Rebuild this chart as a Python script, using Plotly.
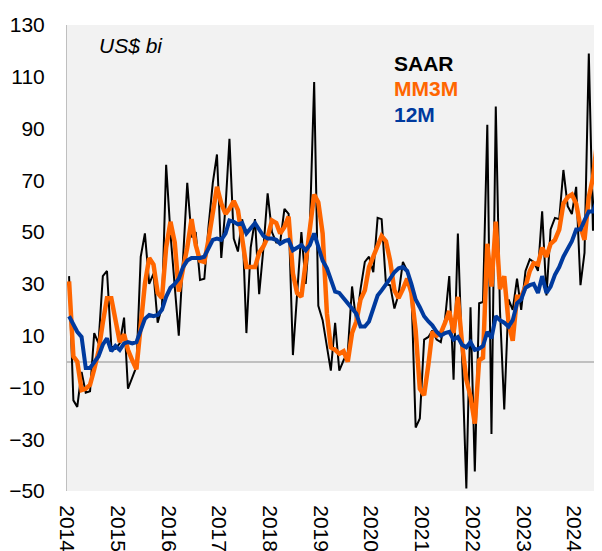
import pandas as pd
import plotly.graph_objects as go

# Monthly observations, Jan 2014 .. Jul 2024 (US$ bi)
start_month = "2014-01-01"

saar = [
    33, -15, -17.5, -4, -12, -11.5, 11, 7, 33, 35, 6, 5,
    7, 17, -10.5, -6, -2, 40.5, 49.5, 30, 34, 15, 21, 76,
    49.5, 29, 10, 40, 69, 48, 50, 31.5, 32, 52, 69, 80,
    40, 60, 86, 47.5, 42.5, 55, 11, 44, 55, 26, 44, 65,
    50, 46, 46, 59, 57, 2.5, 28, 50, 30, 52, 108, 21.5,
    16, 5, -3.5, 15, -3.5, 0.5, 3.5, 29, 15, 28, 38.5, 40.5,
    34.5, 55.5, 55, 30, 29.5, 20.5, 26, 38.5, 35, 28, -25.5, -22,
    8.5, 9.5, 12, 8.5, 7.5, 16.5, 33, -7, 49.5, 2, -49, 21,
    -42.5, 22.5, 23, 91.5, -28, 98.5, 20, -18.5, 24, 20, 32, 20,
    35, 39.5, 38.5, 35, 58, 25.5, 51, 55.5, 55, 74, 60, 57,
    67.5, 29.5, 42, 119, 50.5, 88, 56,
]

mm3m = [
    31, 2, 0, -11, -10.5, -9, -3, 4, 15, 24.5, 24.5, 15,
    7.5, 10.5, 4.5, 0.5, -3, 14, 30, 40, 37.5, 26.5, 24.5, 44,
    54, 46, 27, 36, 44, 55, 45, 39, 38.5, 47, 58.5, 67.5,
    61, 57, 59, 62, 58.5, 47, 36.5, 36.5, 36.5, 42, 44.5, 48,
    54.5, 53.5, 49.5, 52, 56, 34, 26.5, 25, 39, 52, 64.5, 61.5,
    49.5, 18.5, 5.5, 4.5, 3, 4, 0, 11, 15.5, 24, 27.5, 36.5,
    40.5, 44.5, 48.5, 46.5, 39, 27.5, 24.5, 28, 32, 26.5, 12, -10.5,
    -13, -1, 11.5, 10, 11, 15, 19.5, 11, 25, 7, -7, -13.5,
    -24, 0.5, 1.5, 45.5, 29, 54, 28, 33, 15, 8, 25, 25,
    29, 35, 38, 37.5, 44, 40.5, 45.5, 47, 51, 61, 63.5, 64.5,
    61, 52, 47, 63.5, 71, 85.5, 64.5,
]

m12 = [
    17.5, 14, 11.5, 9.5, -2.5, -2.5, 0, 2, 6.5, 9, 4, 6,
    4.5, 7, 7.5, 7, 7.5, 12, 16.5, 18, 17.5, 18, 20, 25,
    28.5, 30, 32, 36.5, 39, 40, 40, 40, 40.5, 44, 47, 47.5,
    47, 49.5, 54.5, 54, 53, 53.5, 49.5, 51.5, 53.5, 51, 48.5, 47.5,
    47.5, 47, 45.5, 46.5, 47, 43, 44, 45, 43, 45, 49.5, 44,
    39, 36, 31.5, 27, 26.5, 24.5, 22.5, 21, 18.5, 13.5, 13.5, 15.5,
    20, 25.5, 27.5, 29.5, 32, 34.5, 36, 36.5, 35, 30, 24, 21,
    17.5, 15.5, 14, 11.5, 10, 11, 11.5, 8.5, 9.5, 6.5, 5.5, 7.5,
    4.5, 5, 6, 11.5, 9, 17.5, 16, 15, 13.5, 16, 22.5, 24,
    28.5, 29.5, 30, 26.5, 33, 26.5, 29, 33.5, 36.5, 40.5, 44, 46.5,
    51, 51, 54.5, 58, 58, 62.5, 63,
]

years = [str(y) for y in range(2014, 2025)]
y_ticks = list(range(-50, 131, 20))

# category positions: middle of each month
months = pd.date_range(start_month, periods=len(saar), freq="MS") + pd.Timedelta(days=15)
year_starts = [f"{y}-01-01" for y in years]

FONT = "Liberation Sans, Arial, sans-serif"

fig = go.Figure()
fig.add_trace(go.Scatter(x=months, y=saar, mode="lines", name="SAAR",
                         line=dict(color="#000000", width=2)))
fig.add_trace(go.Scatter(x=months, y=mm3m, mode="lines", name="MM3M",
                         line=dict(color="#FF6600", width=4.5)))
fig.add_trace(go.Scatter(x=months, y=m12, mode="lines", name="12M",
                         line=dict(color="#003A9E", width=4)))

# page body has an 8px default margin, so the figure is sized to end at the window edge
fig.update_layout(
    width=594, height=543,
    margin=dict(l=59, r=0, t=17, b=60),
    paper_bgcolor="#FFFFFF",
    plot_bgcolor="#F2F2F2",
    showlegend=False,
    font=dict(family=FONT, size=21, color="#000000"),
)

fig.update_xaxes(
    type="date",
    range=["2014-01-01", "2024-07-20"],
    tickvals=year_starts, ticktext=years,
    tickangle=90,
    showgrid=False, zeroline=False, showline=False,
    ticks="outside", ticklen=9, tickcolor="rgba(0,0,0,0)",
    automargin=False,
    tickfont=dict(family=FONT, size=21, color="#000000"),
)
fig.update_yaxes(
    range=[-50, 130],
    tickvals=y_ticks,
    showgrid=False,
    zeroline=True, zerolinecolor="#C0C0C0", zerolinewidth=1.5,
    showline=True, linecolor="#BFBFBF", linewidth=1,
    ticks="outside", ticklen=17, tickcolor="rgba(0,0,0,0)",
    automargin=False,
    tickfont=dict(family=FONT, size=21, color="#000000"),
)

fig.add_annotation(xref="paper", yref="paper", x=0.056, y=0.957,
                   xanchor="left", yanchor="middle", showarrow=False,
                   text="<i>US$ bi</i>", font=dict(family=FONT, size=21, color="#000000"))
legend_items = [("SAAR", "#000000", 0.918), ("MM3M", "#FF6600", 0.863), ("12M", "#003A9E", 0.809)]
for label, color, ypos in legend_items:
    fig.add_annotation(xref="paper", yref="paper", x=0.608, y=ypos,
                       xanchor="left", yanchor="middle", showarrow=False,
                       text=f"<b>{label}</b>", font=dict(family=FONT, size=21, color=color))

fig.write_html("out.html")
